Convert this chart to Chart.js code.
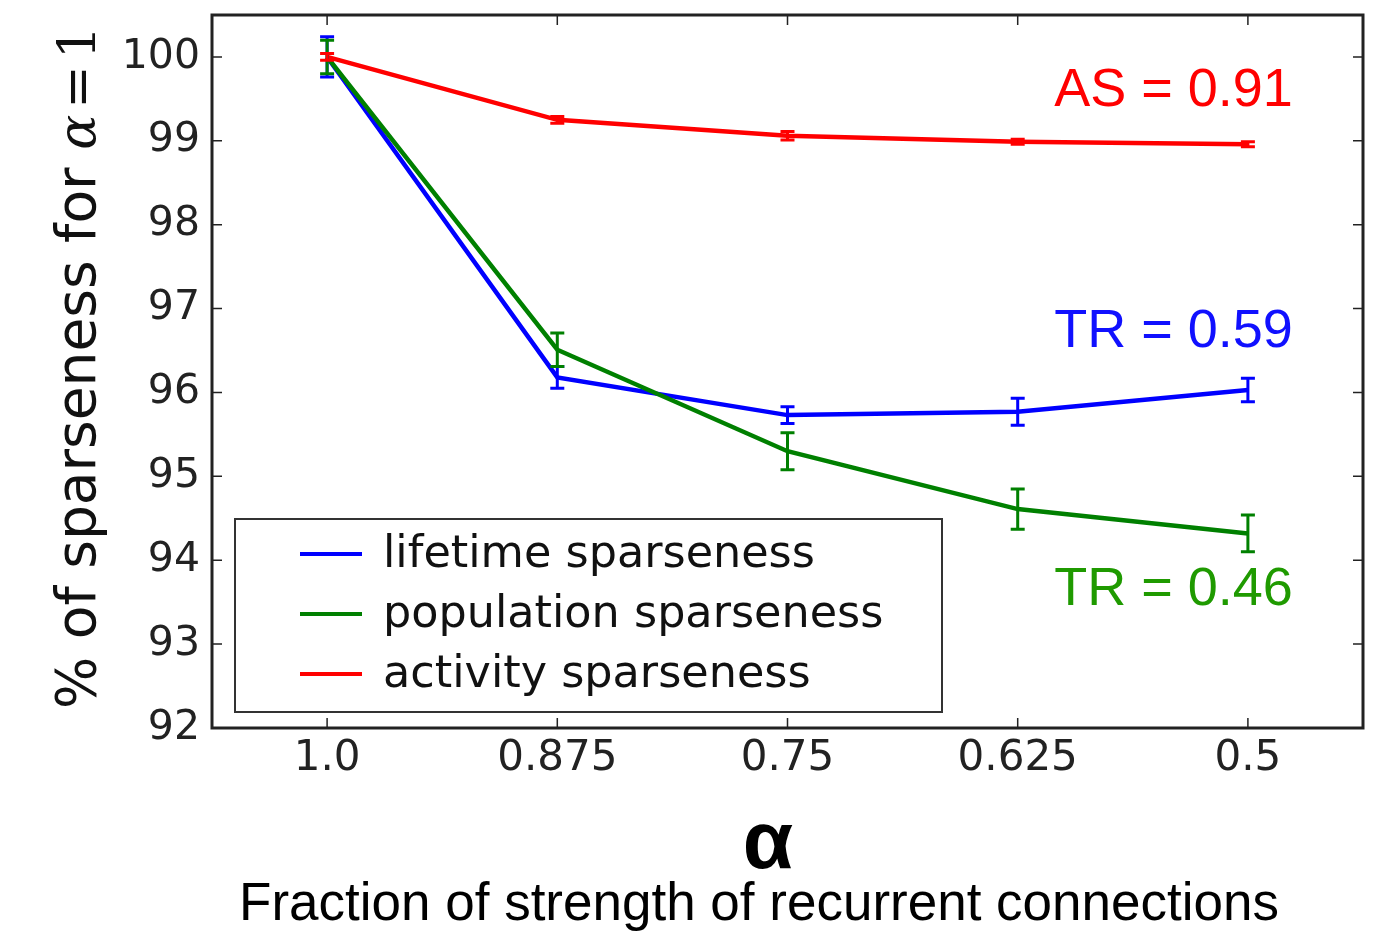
<!DOCTYPE html>
<html>
<head>
<meta charset="utf-8">
<script src="https://cdn.jsdelivr.net/npm/chart.js@4.4.0/dist/chart.umd.min.js"></script>
<style>
  html, body { margin: 0; padding: 0; background: #fff; }
  #wrap { width: 1375px; height: 935px; }
</style>
</head>
<body>
<div id="wrap"><canvas id="myChart" width="1375" height="935"></canvas></div>
<script>
// values
const xLabels = ['1.0', '0.875', '0.75', '0.625', '0.5'];
const lifetime = [100, 96.18, 95.73, 95.77, 96.03];
const lifetimeErr = [0.24, 0.13, 0.10, 0.16, 0.14];
const population = [100, 96.51, 95.30, 94.61, 94.32];
const populationErr = [0.20, 0.20, 0.22, 0.24, 0.22];
const activity = [100, 99.25, 99.06, 98.99, 98.96];
const activityErr = [0.04, 0.04, 0.05, 0.03, 0.03];
const yTicks = [92, 93, 94, 95, 96, 97, 98, 99, 100];
const noteTexts = ['AS = 0.91', 'TR = 0.59', 'TR = 0.46'];
const noteYs = [99.42, 96.54, 93.47];

const BLUE = '#0000ff', GREEN = '#008000', RED = '#ff0000';
const noteColors = [RED, '#1010ff', '#1f9a00'];

const errs = [lifetimeErr, populationErr, activityErr];

// error bars, frame with inward ticks, legend box, annotations, titles
const extras = {
  id: 'extras',
  afterDatasetsDraw(chart) {
    const c = chart.ctx, xs = chart.scales.x, ys = chart.scales.y;
    c.save();
    chart.data.datasets.forEach((ds, i) => {
      c.strokeStyle = ds.borderColor;
      c.lineWidth = 3;
      ds.data.forEach((v, j) => {
        const px = xs.getPixelForValue(j);
        const top = ys.getPixelForValue(v + errs[i][j]);
        const bot = ys.getPixelForValue(v - errs[i][j]);
        c.beginPath();
        c.moveTo(px, top); c.lineTo(px, bot);
        c.moveTo(px - 7, top); c.lineTo(px + 7, top);
        c.moveTo(px - 7, bot); c.lineTo(px + 7, bot);
        c.stroke();
      });
    });
    c.restore();
  },
  afterDraw(chart) {
    const c = chart.ctx, a = chart.chartArea, xs = chart.scales.x, ys = chart.scales.y;
    c.save();
    // frame
    c.strokeStyle = '#222';
    c.lineWidth = 3;
    c.strokeRect(a.left, a.top, a.right - a.left, a.bottom - a.top);
    // inward ticks
    c.lineWidth = 1.5;
    c.beginPath();
    yTicks.forEach(t => {
      const py = ys.getPixelForValue(t);
      c.moveTo(a.left, py); c.lineTo(a.left + 10, py);
      c.moveTo(a.right, py); c.lineTo(a.right - 10, py);
    });
    xLabels.forEach((l, j) => {
      const px = xs.getPixelForValue(j);
      c.moveTo(px, a.bottom); c.lineTo(px, a.bottom - 10);
      c.moveTo(px, a.top); c.lineTo(px, a.top + 10);
    });
    c.stroke();

    // legend
    c.fillStyle = '#fff';
    c.fillRect(235, 519, 707, 193);
    c.strokeStyle = '#333';
    c.lineWidth = 2;
    c.strokeRect(235, 519, 707, 193);
    c.font = '44.5px "DejaVu Sans"';
    c.textBaseline = 'middle';
    c.textAlign = 'left';
    chart.data.datasets.forEach((ds, i) => {
      const ly = 554 + i * 60;
      c.strokeStyle = ds.borderColor;
      c.lineWidth = 4;
      c.beginPath(); c.moveTo(300, ly); c.lineTo(362, ly); c.stroke();
      c.fillStyle = '#111';
      c.fillText(ds.label, 383, ly + 1);
    });

    // annotations
    c.font = '54px "Liberation Sans"';
    c.textAlign = 'right';
    c.textBaseline = 'alphabetic';
    const nx = xs.getPixelForValue(xLabels.length - 1) + 45;
    noteTexts.forEach((t, i) => {
      c.fillStyle = noteColors[i];
      c.fillText(t, nx, ys.getPixelForValue(noteYs[i]));
    });

    // x titles
    c.fillStyle = '#000';
    c.textAlign = 'center';
    c.font = 'bold 82px "Liberation Sans"';
    c.fillText('\u03b1', 768, 868);
    c.font = '53px "Liberation Sans"';
    c.fillText('Fraction of strength of recurrent connections', 759, 920);

    // y title (rotated, with math part)
    c.translate(95, 709);
    c.rotate(-Math.PI / 2);
    c.textAlign = 'left';
    c.fillStyle = '#111';
    c.font = '55px "DejaVu Sans"';
    const part1 = '% of sparseness for ';
    c.fillText(part1, 0, 0);
    let off = c.measureText(part1).width;
    c.font = 'italic 52px "DejaVu Serif"';
    c.fillText('\u03b1', off, 0);
    off += c.measureText('\u03b1').width + 6;
    c.font = '52px "DejaVu Serif"';
    c.fillText('=', off, 0);
    off += c.measureText('=').width + 6;
    c.fillText('1', off, 0);
    c.restore();
  }
};

const ctx = document.getElementById('myChart');

new Chart(ctx, {
  type: 'line',
  data: {
    labels: xLabels,
    datasets: [
      { label: 'lifetime sparseness', data: lifetime, borderColor: BLUE, order: 3 },
      { label: 'population sparseness', data: population, borderColor: GREEN, order: 2 },
      { label: 'activity sparseness', data: activity, borderColor: RED, order: 1 }
    ]
  },
  options: {
    responsive: false,
    animation: false,
    devicePixelRatio: 1,
    layout: { padding: { left: 0, right: 12, top: 15, bottom: 0 } },
    elements: {
      line: { borderWidth: 4.5, tension: 0, fill: false },
      point: { radius: 0, hoverRadius: 0 }
    },
    plugins: {
      legend: { display: false },
      tooltip: { enabled: false }
    },
    scales: {
      x: {
        type: 'category',
        offset: true,
        grid: { display: false, drawTicks: false },
        border: { display: false },
        ticks: {
          padding: 6,
          color: '#222',
          font: { family: 'DejaVu Sans', size: 42 },
          maxRotation: 0,
          autoSkip: false
        },
        afterFit(s) { s.height = 207; s.paddingLeft = 0; s.paddingRight = 0; }
      },
      y: {
        min: 92,
        max: 100.5,
        grid: { display: false, drawTicks: false },
        border: { display: false },
        ticks: {
          stepSize: 1,
          includeBounds: false,
          padding: 12,
          color: '#222',
          font: { family: 'DejaVu Sans', size: 41 },
          callback: v => (yTicks.includes(v) ? String(v) : '')
        },
        afterFit(s) { s.width = 212; s.paddingTop = 0; s.paddingBottom = 0; }
      }
    }
  },
  plugins: [extras]
});
</script>
</body>
</html>
